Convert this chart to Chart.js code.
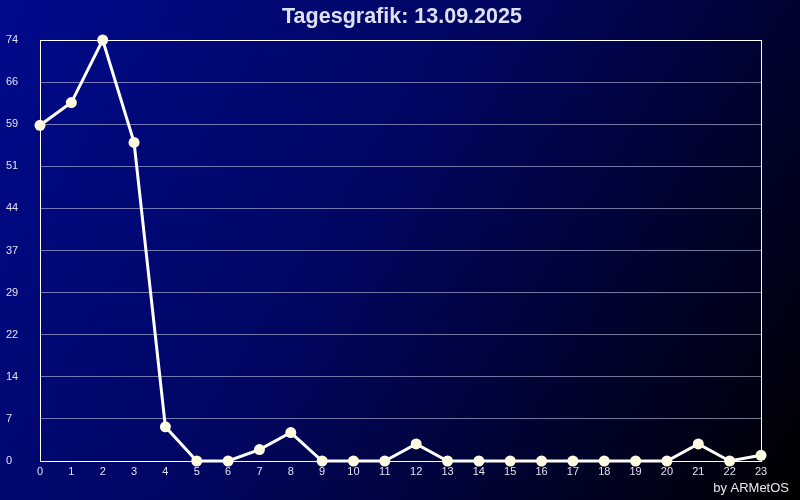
<!DOCTYPE html>
<html>
<head>
<meta charset="utf-8">
<script src="https://cdn.jsdelivr.net/npm/chart.js@4"></script>
<style>
  html, body { margin: 0; padding: 0; background: #000; }
  #wrap { width: 800px; height: 500px; position: relative; }
</style>
</head>
<body>
<div id="wrap"><canvas id="myChart"></canvas></div>
<script>
// hours of the day
var hours = [0, 1, 2, 3, 4, 5, 6, 7, 8, 9, 10, 11, 12, 13, 14, 15, 16, 17, 18, 19, 20, 21, 22, 23];
// values
var values = [59, 63, 74, 56, 6, 0, 0, 2, 5, 0, 0, 0, 3, 0, 0, 0, 0, 0, 0, 0, 0, 3, 0, 1];
// y tick labels (10 equal steps from 0 to 74, shown truncated)
var yTickLabels = [0, 7, 14, 22, 29, 37, 44, 51, 59, 66, 74];
var yMax = 74;
var titleText = "Tagesgrafik: 13.09.2025";

var bgPlugin = {
  id: "bg",
  beforeDraw: function (chart) {
    var c = chart.ctx;
    var g = c.createLinearGradient(0, 0, chart.width, chart.height);
    g.addColorStop(0, "#000a8c");
    g.addColorStop(0.45, "#000660");
    g.addColorStop(1, "#000000");
    c.save();
    c.fillStyle = g;
    c.fillRect(0, 0, chart.width, chart.height);
    // title
    c.fillStyle = "#dde0f2";
    c.font = "bold 21.5px 'Liberation Sans', Arial, sans-serif";
    c.textAlign = "center";
    c.textBaseline = "middle";
    c.fillText(titleText, 402, 17);
    c.restore();
  },
  beforeDatasetsDraw: function (chart) {
    var a = chart.chartArea;
    var c = chart.ctx;
    c.save();
    c.strokeStyle = "#ffffff";
    c.lineWidth = 1;
    c.strokeRect(Math.round(a.left) + 0.5, Math.round(a.top) + 0.5, Math.round(a.right - a.left), Math.round(a.bottom - a.top));
    c.restore();
  },
  afterDatasetsDraw: function (chart) {
    var c = chart.ctx;
    c.save();
    c.fillStyle = "#e8e8f0";
    c.font = "13px 'Liberation Sans', Arial, sans-serif";
    c.textAlign = "right";
    c.textBaseline = "middle";
    c.fillText("by ARMetOS", 789, 488);
    c.restore();
  }
};

var ctx = document.getElementById("myChart").getContext("2d");
var myChart = new Chart(ctx, {
  type: "line",
  data: {
    labels: hours,
    datasets: [{
      data: values,
      borderColor: "#ffffff",
      borderWidth: 3,
      pointRadius: 5.5,
      pointBackgroundColor: "#fffbe0",
      pointBorderColor: "#fffbe0",
      pointBorderWidth: 0,
      tension: 0,
      clip: false
    }]
  },
  options: {
    responsive: true,
    maintainAspectRatio: false,
    animation: false,
    layout: { padding: { left: 6, right: 39, top: 40, bottom: 0 } },
    plugins: {
      legend: { display: false },
      tooltip: { enabled: false },
      title: { display: false }
    },
    scales: {
      x: {
        type: "category",
        offset: false,
        grid: { display: false, drawTicks: false },
        border: { display: false },
        ticks: {
          color: "#e0e0ec",
          font: { family: "'Liberation Sans', Arial, sans-serif", size: 11 },
          padding: 4,
          maxRotation: 0,
          autoSkip: false
        },
        afterFit: function (scale) { scale.height = 39; }
      },
      y: {
        min: 0,
        max: yMax,
        grid: { color: "rgba(180,180,215,0.65)", lineWidth: 1, drawTicks: false },
        border: { display: false },
        afterBuildTicks: function (scale) {
          scale.ticks = yTickLabels.map(function (l, i) { return { value: i * yMax / (yTickLabels.length - 1) }; });
        },
        ticks: {
          color: "#e0e0ec",
          font: { family: "'Liberation Sans', Arial, sans-serif", size: 11 },
          crossAlign: "far",
          padding: 6,
          callback: function (v, i) { return yTickLabels[i]; }
        },
        afterFit: function (scale) { scale.width = 34; }
      }
    }
  },
  plugins: [bgPlugin]
});
</script>
</body>
</html>
